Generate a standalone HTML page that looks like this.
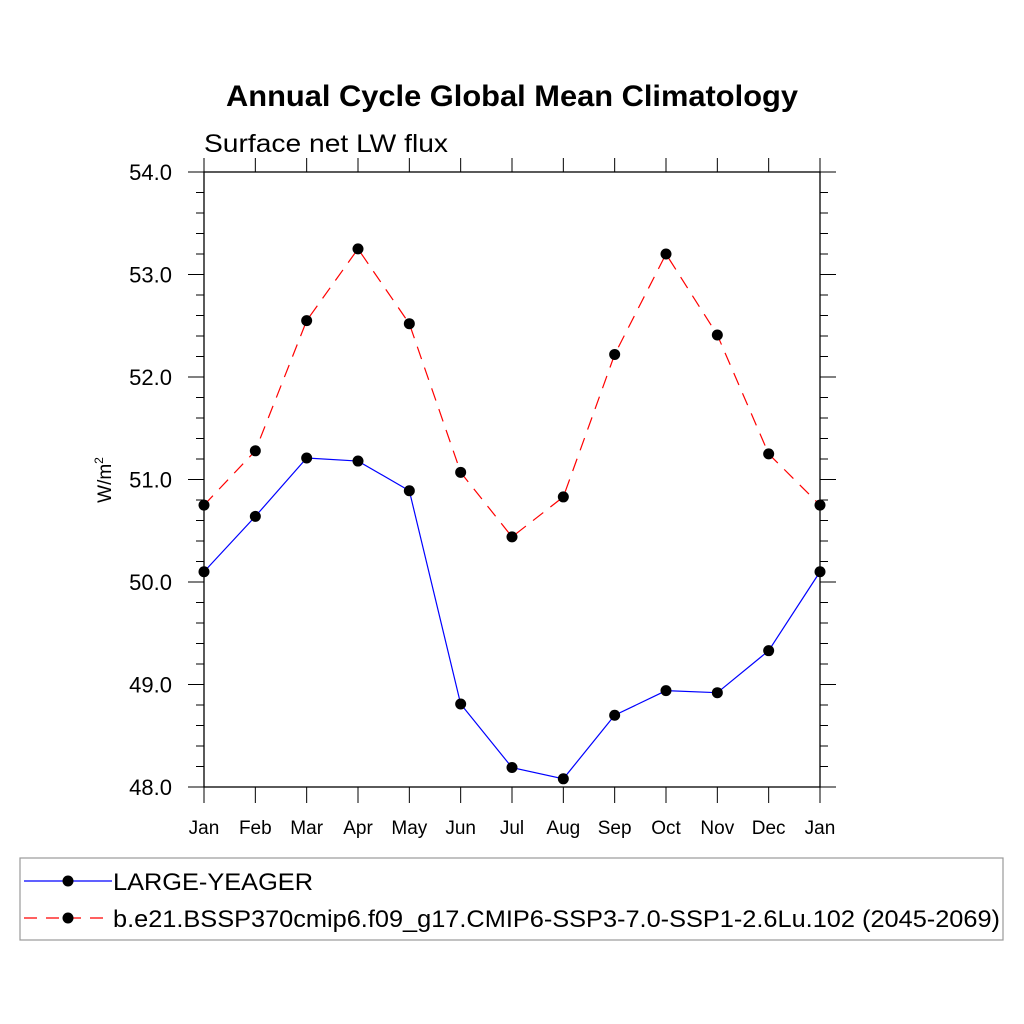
<!DOCTYPE html>
<html><head><meta charset="utf-8">
<style>
html,body{margin:0;padding:0;background:#fff;}
svg{display:block;font-family:"Liberation Sans",Arial,sans-serif;}
</style></head>
<body>
<svg id="chart" width="1024" height="1024" viewBox="0 0 1024 1024">
<rect width="1024" height="1024" fill="#fff"/>
<text x="226" y="106" textLength="572" lengthAdjust="spacingAndGlyphs" font-size="30" font-weight="bold">Annual Cycle Global Mean Climatology</text>
<text x="204" y="152" textLength="244" lengthAdjust="spacingAndGlyphs" font-size="25">Surface net LW flux</text>
<text transform="translate(111,480) rotate(-90)" text-anchor="middle" font-size="19">W/m<tspan font-size="12" dy="-8">2</tspan></text>
<g id="axes"></g>
<g id="series"></g>
<rect x="20" y="858" width="983" height="82" fill="none" stroke="#999" stroke-width="1.2"/>
<g>
<line x1="24" y1="881" x2="112" y2="881" stroke="#00f" stroke-width="1.2"/>
<circle cx="68" cy="881" r="5.5" fill="#000"/>
<text x="113" y="890" textLength="200" lengthAdjust="spacingAndGlyphs" font-size="24">LARGE-YEAGER</text>
</g>
<g>
<line x1="24" y1="918" x2="112" y2="918" stroke="#f00" stroke-width="1.2" stroke-dasharray="13,9"/>
<circle cx="68" cy="918" r="5.5" fill="#000"/>
<text x="113" y="927" textLength="887" lengthAdjust="spacingAndGlyphs" font-size="24">b.e21.BSSP370cmip6.f09_g17.CMIP6-SSP3-7.0-SSP1-2.6Lu.102 (2045-2069)</text>
</g>
</svg>
<script>
const months = ["Jan","Feb","Mar","Apr","May","Jun","Jul","Aug","Sep","Oct","Nov","Dec","Jan"];
const yTicks = ["48.0","49.0","50.0","51.0","52.0","53.0","54.0"];
const largeYeager = [50.10,50.64,51.21,51.18,50.89,48.81,48.19,48.08,48.70,48.94,48.92,49.33,50.10];
const sspRun = [50.75,51.28,52.55,53.25,52.52,51.07,50.44,50.83,52.22,53.20,52.41,51.25,50.75];

const NS="http://www.w3.org/2000/svg";
const L=204,R=820,T=172,B=787,YMIN=48,YMAX=54;
const xs=i=>L+(R-L)*i/(months.length-1);
const ys=v=>B-(B-T)*(v-YMIN)/(YMAX-YMIN);
function mk(tag,attrs,parent){const e=document.createElementNS(NS,tag);for(const k in attrs)e.setAttribute(k,attrs[k]);parent.appendChild(e);return e;}
const ax=document.getElementById('axes');
const frame=mk('rect',{x:L,y:T,width:R-L,height:B-T,fill:'none',stroke:'#000','stroke-width':1.3},ax);


for(let v=YMIN;v<=YMAX+1e-9;v+=0.2){
  const major=Math.abs(v-Math.round(v))<1e-6;
  const y=ys(v);const len=major?16:8;
  mk('line',{x1:L-len,y1:y,x2:L,y2:y,stroke:'#000','stroke-width':1},ax);
  mk('line',{x1:R,y1:y,x2:R+len,y2:y,stroke:'#000','stroke-width':1},ax);
}
yTicks.forEach(t=>{
  const e=mk('text',{x:L-32,y:ys(parseFloat(t))+8,'text-anchor':'end','font-size':22},ax);
  e.textContent=t;
  
  
});
months.forEach((m,i)=>{
  const x=xs(i);
  mk('line',{x1:x,y1:T-14,x2:x,y2:T,stroke:'#000','stroke-width':1},ax);
  mk('line',{x1:x,y1:B,x2:x,y2:B+16,stroke:'#000','stroke-width':1},ax);
  const e=mk('text',{x:x,y:834,'text-anchor':'middle','font-size':19},ax);
  e.textContent=m;
  
  
});
const sg=document.getElementById('series');
function draw(data,color,dash,name){
  const g=mk('g',{},sg);
  
  
  const pts=data.map((v,i)=>xs(i)+','+ys(v)).join(' ');
  const a={points:pts,fill:'none',stroke:color,'stroke-width':1.2};
  if(dash)a['stroke-dasharray']=dash;
  mk('polyline',a,g);
  data.forEach((v,i)=>{
    const c=mk('circle',{cx:xs(i),cy:ys(v),r:5.5,fill:'#000'},g);
    
    
  });
}
draw(sspRun,'#f00','13,9','series-ssp');
draw(largeYeager,'#00f',null,'series-large-yeager');
</script>
</body></html>
